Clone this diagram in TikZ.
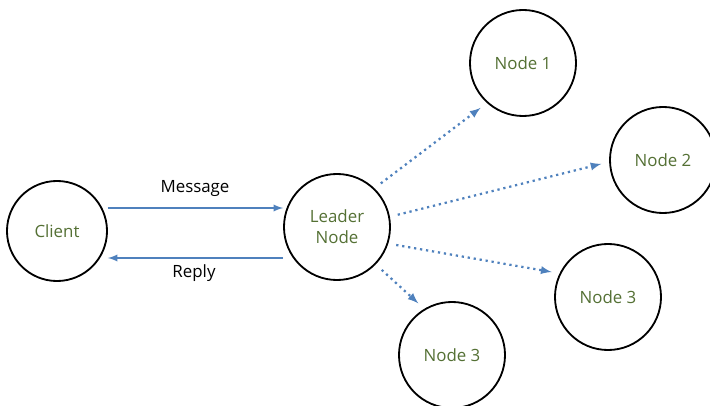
\documentclass[tikz,border=0pt]{standalone}
\usepackage{fontspec}
\setmainfont{Open Sans}
\usepackage{tikz}
\usetikzlibrary{arrows}

\definecolor{flowblue}{RGB}{79,129,189}
\definecolor{labelgreen}{RGB}{84,112,52}

\begin{document}
\begin{tikzpicture}[x=0.025cm, y=-0.025cm]

  \tikzset{peer/.style={draw, circle, line width=1.3pt, minimum size=2.65cm,
      inner sep=0pt, align=center, text=labelgreen,
      font=\fontsize{12}{15}\selectfont}}
  \tikzset{flow/.style={->, >=latex, line width=1.3pt, draw=flowblue, fill=flowblue}}
  \tikzset{repl/.style={->, >=latex, line width=1.6pt, draw=flowblue,
      dash pattern=on 1.6pt off 2.7pt, shorten <=0.2cm, shorten >=0.2cm}}
  \tikzset{tag/.style={font=\fontsize{12}{15}\selectfont}}

  \useasboundingbox (0,0) rectangle (710,406);

  \node[peer, minimum size=2.5cm] (client) at (57,231) {Client};
  \node[peer] (leader) at (337,227) {Leader\\Node};
  \node[peer] (n1) at (523,63) {Node 1};
  \node[peer] (n2) at (663,160) {Node 2};
  \node[peer] (n3) at (608,297) {Node 3};
  \node[peer] (n4) at (452,355) {Node 3};

  % request and answer between client and leader
  \draw[flow] (client.east |- 0,208) -- (leader.west |- 0,208);
  \draw[flow] (leader.west |- 0,258) -- (client.east |- 0,258);
  \node[tag] (msg) at (195,189) {Message};
  \node[tag] (rep) at (194,273) {Reply};

  % replication to the followers
  \draw[repl] (leader.46) -- (n1.228);
  \draw[repl] (leader.11) -- (n2.182);
  \draw[repl] (leader.-18) -- (n3.154);
  \draw[repl] (leader.-44) -- (n4.121);
\end{tikzpicture}
\end{document}
